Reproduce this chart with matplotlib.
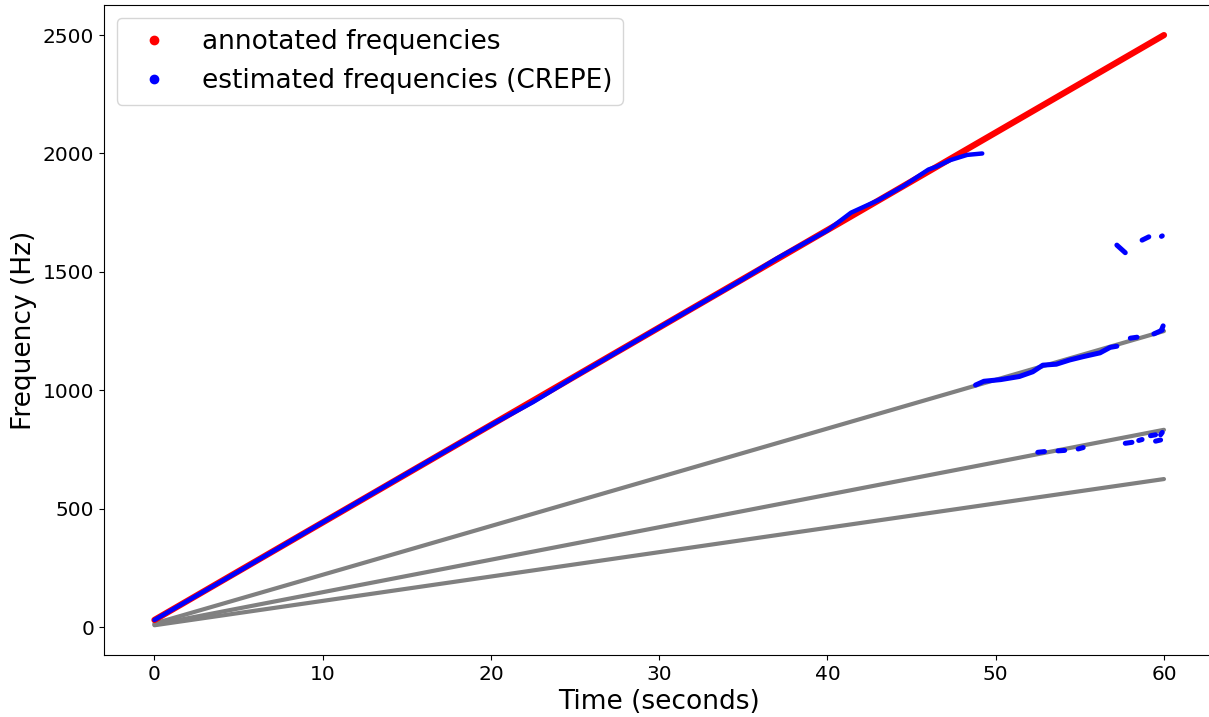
import matplotlib
matplotlib.use("Agg")
import matplotlib.pyplot as plt
from matplotlib.lines import Line2D

# annotated sweep (start / end of the linear chirp)
annot_t = [0, 60]
annot_f = [30, 2500]

# sub-harmonic guide lines (f/2, f/3, f/4)
sub_t = [0, 60]
sub_f = [
    [15, 1250],
    [10, 833],
    [7.5, 625],
]

# CREPE estimate, main trace following the annotation
crepe_main_t = [0, 5, 10, 15, 20, 22.5, 25, 30, 35, 37, 40, 41.4, 43, 44.5,
                46, 46.5, 47.3, 48.3, 49.2]
crepe_main_f = [30, 235, 442, 648, 853, 950, 1058, 1265, 1470, 1557, 1675,
                1750, 1802, 1862, 1932, 1945, 1972, 1994, 2000]

# CREPE estimate, octave-down trace near the end
crepe_oct_t = [48.8, 49.3, 50.3, 51.4, 52.2, 52.8, 53.6, 54.4, 55.2, 56.2,
               56.8, 57.2]
crepe_oct_f = [1022, 1038, 1045, 1058, 1078, 1106, 1110, 1128, 1142, 1158,
               1181, 1186]

# short CREPE fragments (t0, t1, f0, f1)
crepe_frag = [
    (58.0, 58.4, 1220, 1224),
    (59.4, 59.9, 1238, 1254),
    (59.85, 59.95, 1254, 1272),
    (52.5, 52.9, 738, 741),
    (53.7, 54.1, 744, 746),
    (54.9, 55.2, 752, 758),
    (57.7, 58.1, 776, 780),
    (58.5, 58.7, 788, 792),
    (59.2, 59.5, 808, 812),
    (59.5, 59.8, 785, 790),
    (59.8, 59.9, 812, 822),
    (57.2, 57.7, 1613, 1581),
    (58.7, 59.1, 1634, 1648),
    (59.85, 59.9, 1650, 1652),
]

fig = plt.figure(figsize=(12.09, 7.17), dpi=100)
ax = fig.add_axes([0.086, 0.0865, 0.9185, 0.9065])

for f in sub_f:
    ax.plot(sub_t, f, color="grey", lw=3, solid_capstyle="round")
ax.plot(annot_t, annot_f, color="red", lw=4.5, solid_capstyle="round")
ax.plot(crepe_main_t, crepe_main_f, color="blue", lw=3.2, solid_capstyle="round")
ax.plot(crepe_oct_t, crepe_oct_f, color="blue", lw=3.6, solid_capstyle="round")
for t0, t1, f0, f1 in crepe_frag:
    ax.plot([t0, t1], [f0, f1], color="blue", lw=3.6, solid_capstyle="round")

ax.set_xlim(-3, 63)
ax.set_ylim(-118, 2627)
ax.set_xticks(range(0, 61, 10))
ax.set_yticks(range(0, 2501, 500))
ax.tick_params(labelsize=14.5)
ax.set_xlabel("Time (seconds)", fontsize=19)
ax.set_ylabel("Frequency (Hz)", fontsize=19)

handles = [
    Line2D([], [], ls="", marker="o", markersize=6, color="red"),
    Line2D([], [], ls="", marker="o", markersize=6, color="blue"),
]
ax.legend(handles, ["annotated frequencies", "estimated frequencies (CREPE)"],
          loc="upper left", fontsize=19)

fig.savefig("out.png", dpi=100)
